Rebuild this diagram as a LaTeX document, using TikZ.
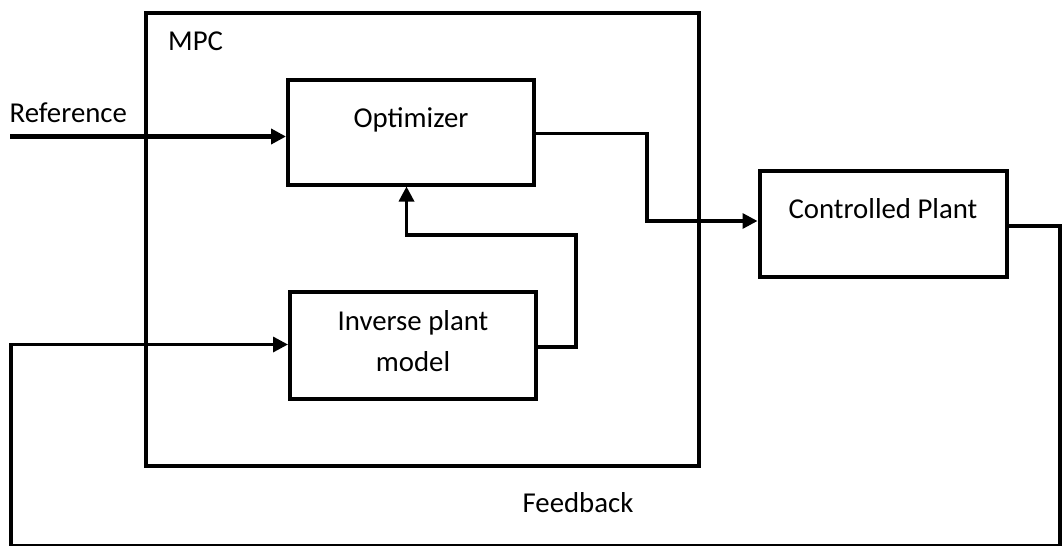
\documentclass[tikz,border=0pt]{standalone}
\usepackage{fontspec}
\setmainfont{Carlito}
\usetikzlibrary{arrows.meta}
\begin{document}
\begin{tikzpicture}[x=1pt,y=-1pt,
  box/.style={draw, rectangle, line width=4pt, inner sep=0pt},
  txt/.style={inner sep=0pt, font=\fontsize{28.8}{41}\selectfont},
  wire/.style={line width=3.3pt, line join=miter},
  arrowwire/.style={wire, -{Triangle[length=15pt,width=15pt]}}]
\useasboundingbox (0,0) rectangle (1063,546);

% blocks
\node[box, minimum width=553.5pt, minimum height=452.5pt] (mpc) at (422.25,239.25) {};
\node[box, minimum width=246pt, minimum height=105pt] (opt) at (411,132) {};
\node[box, minimum width=246pt, minimum height=107pt] (inv) at (413,345.5) {};
\node[box, minimum width=247pt, minimum height=106.5pt] (plant) at (883,223.75) {};

% texts
\node[txt, anchor=base west] (mpclbl) at (168,50) {MPC};
\node[txt, anchor=base west] (reflbl) at (9.5,122.7) {Reference};
\node[txt, anchor=base] (optlbl) at (411,127.3) {Optimizer};
\node[txt, anchor=base] (plantlbl) at (883,218.5) {Controlled Plant};
\node[txt, align=center] (invlbl) at (413,341.5) {Inverse plant\\model};
\node[txt, anchor=base] (fblbl) at (578,512.5) {Feedback};

% reference input
\coordinate (refin) at (10,136.5);
\draw[arrowwire, line width=4.2pt] (refin) -- (refin -| opt.west);

% optimizer to plant
\coordinate (o1) at (647,133.5);
\coordinate (o2) at (647,221);
\draw[arrowwire] (opt.east |- o1) -- (o1) -- (o2) -- (o2 -| plant.west);

% model to optimizer
\coordinate (f1) at (576,347);
\coordinate (f2) at (576,235);
\coordinate (f3) at (406.5,235);
\draw[arrowwire] (inv.east |- f1) -- (f1) -- (f2) -- (f3) -- (f3 |- opt.south);

% feedback loop
\coordinate (p1) at (1060,226);
\coordinate (p2) at (1060,546);
\coordinate (p3) at (11,546);
\coordinate (p4) at (11,344.5);
\draw[arrowwire] (plant.east |- p1) -- (p1) -- (p2) -- (p3) -- (p4) -- (p4 -| inv.west);
\end{tikzpicture}
\end{document}
